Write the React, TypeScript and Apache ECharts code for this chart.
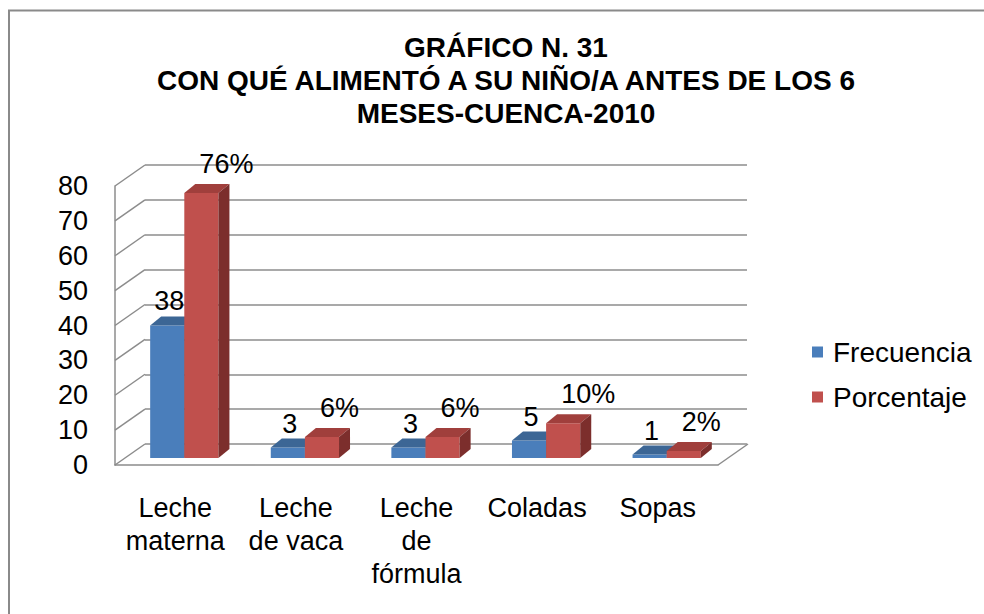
import React, { useEffect, useRef } from "react";
import * as echarts from "echarts";

const titleLines = ["GRÁFICO N. 31", "CON QUÉ ALIMENTÓ A SU NIÑO/A ANTES DE LOS 6", "MESES-CUENCA-2010"];
const categories = ["Leche\nmaterna", "Leche\nde vaca", "Leche\nde\nfórmula", "Coladas", "Sopas"];
const frecuencia = [38, 3, 3, 5, 1];
const porcentaje = [76, 6, 6, 10, 2];
const yTicks = [0, 10, 20, 30, 40, 50, 60, 70, 80];
const seriesNames = ["Frecuencia", "Porcentaje"];

const FONT = '"Liberation Sans", Arial, sans-serif';
const GRID_COLOR = "#8c8c8c";
const BLUE = { front: "#4a7ebb", top: "#3c6695", side: "#2f5079" };
const RED = { front: "#c0504d", top: "#a03f3c", side: "#7c2e2c" };

// 3D geometry (pixel offsets of the back wall relative to the front plane)
const WALL_DX = 30;
const WALL_DY = -21;

function barRenderer(side: number, colors: { front: string; top: string; side: string }, fmt: (v: number) => string) {
  return (params: any, api: any) => {
    const ci = api.value(0);
    const v = api.value(1);
    const topPt = api.coord([ci, v]);
    const basePt = api.coord([ci, 0]);
    const band = api.size([1, 0])[0];
    const bw = band * 0.283;
    const cx = basePt[0] + 9;
    const x0 = side === 0 ? cx - bw : cx;
    const x1 = x0 + bw;
    const yb = basePt[1] - 7;
    const yt = topPt[1] - 7;
    const dx = 11;
    const dy = -9;
    const mid = (x0 + x1) / 2;
    const label =
      side === 0
        ? { type: "text", x: mid + 2, y: yt - 24, style: { text: fmt(v), font: `27px ${FONT}`, fill: "#000", align: "center", verticalAlign: "middle" } }
        : { type: "text", x: mid - 2, y: yt - 29, style: { text: fmt(v), font: `27px ${FONT}`, fill: "#000", align: "left", verticalAlign: "middle" } };
    return {
      type: "group",
      children: [
        { type: "rect", shape: { x: x0, y: yt, width: bw, height: yb - yt }, style: { fill: colors.front } },
        {
          type: "polygon",
          shape: { points: [[x0, yt], [x1, yt], [x1 + dx, yt + dy], [x0 + dx, yt + dy]] },
          style: { fill: colors.top },
        },
        {
          type: "polygon",
          shape: { points: [[x1, yt], [x1 + dx, yt + dy], [x1 + dx, yb + dy], [x1, yb]] },
          style: { fill: colors.side },
        },
        label,
      ],
    };
  };
}

export default function App() {
  const ref = useRef<HTMLDivElement>(null);
  useEffect(() => {
    if (!ref.current) return;
    const chart = echarts.init(ref.current, null, { renderer: "svg" });
    const option: any = {
      animation: false,
      backgroundColor: "#ffffff",
      title: {
        text: titleLines.join("\n"),
        left: 501,
        top: 26,
        textAlign: "center",
        textStyle: { fontFamily: FONT, fontSize: 28, fontWeight: "bold", color: "#000", lineHeight: 33 },
      },
      legend: {
        orient: "vertical",
        left: 807,
        top: 333,
        itemWidth: 11,
        itemHeight: 11,
        itemGap: 17,
        icon: "rect",
        textStyle: { fontFamily: FONT, fontSize: 28, color: "#000", padding: [0, 0, 0, 5] },
        data: [
          { name: seriesNames[0], itemStyle: { color: BLUE.front } },
          { name: seriesNames[1], itemStyle: { color: RED.front } },
        ],
      },
      graphic: [
        {
          type: "rect",
          z: -10,
          shape: { x: 9, y: 10.5, width: 1100, height: 800 },
          style: { fill: "none", stroke: "#8a8a8a", lineWidth: 2 },
        },
      ],
      grid: [
        { left: 115, right: 266, top: 186, bottom: 149 },
        { left: 115 + WALL_DX, right: 266 - WALL_DX + 1, top: 186 + WALL_DY, bottom: 149 - WALL_DY },
      ],
      xAxis: [
        {
          type: "category",
          gridIndex: 0,
          data: categories,
          boundaryGap: true,
          axisTick: { show: false },
          axisLine: { show: true, lineStyle: { color: GRID_COLOR, width: 1.5 } },
          axisLabel: { fontFamily: FONT, fontSize: 27, color: "#000", lineHeight: 33, margin: 26, interval: 0 },
        },
        {
          type: "category",
          gridIndex: 1,
          data: categories,
          show: false,
        },
      ],
      yAxis: [
        {
          type: "value",
          gridIndex: 0,
          min: 0,
          max: 80,
          interval: 10,
          splitLine: { show: false },
          axisTick: { show: false },
          axisLine: { show: true, lineStyle: { color: GRID_COLOR, width: 1.5 } },
          axisLabel: { fontFamily: FONT, fontSize: 27, color: "#000", margin: 27 },
        },
        {
          type: "value",
          gridIndex: 1,
          min: 0,
          max: 80,
          interval: 10,
          axisLine: { show: false },
          axisTick: { show: false },
          axisLabel: { show: false },
          splitLine: { show: true, lineStyle: { color: GRID_COLOR, width: 1.5 } },
        },
      ],
      series: [
        {
          type: "custom",
          name: "frame",
          xAxisIndex: 0,
          yAxisIndex: 0,
          silent: true,
          clip: false,
          z: 1,
          data: yTicks.map((t) => [0, t]),
          encode: { x: 0, y: 1 },
          renderItem: (params: any, api: any) => {
            const t = api.value(1);
            const cs = params.coordSys;
            const y = api.coord([0, t])[1];
            const children: any[] = [
              {
                type: "line",
                shape: { x1: cs.x, y1: y, x2: cs.x + WALL_DX, y2: y + WALL_DY },
                style: { stroke: GRID_COLOR, lineWidth: 1.5 },
              },
            ];
            if (t === 0) {
              const xr = cs.x + cs.width;
              children.push({
                type: "line",
                shape: { x1: xr, y1: y, x2: xr + WALL_DX, y2: y + WALL_DY },
                style: { stroke: GRID_COLOR, lineWidth: 1.5 },
              });
            }
            return { type: "group", children };
          },
        },
        {
          type: "custom",
          name: seriesNames[0],
          xAxisIndex: 0,
          yAxisIndex: 0,
          clip: false,
          z: 3,
          itemStyle: { color: BLUE.front },
          data: frecuencia.map((v, i) => [i, v]),
          encode: { x: 0, y: 1 },
          renderItem: barRenderer(0, BLUE, (v) => String(v)),
        },
        {
          type: "custom",
          name: seriesNames[1],
          xAxisIndex: 0,
          yAxisIndex: 0,
          clip: false,
          z: 4,
          itemStyle: { color: RED.front },
          data: porcentaje.map((v, i) => [i, v]),
          encode: { x: 0, y: 1 },
          renderItem: barRenderer(1, RED, (v) => `${v}%`),
        },
      ],
    };
    chart.setOption(option);
    return () => chart.dispose();
  }, []);
  return <div ref={ref} style={{ position: "absolute", left: 0, top: 0, width: 984, height: 614 }} />;
}
